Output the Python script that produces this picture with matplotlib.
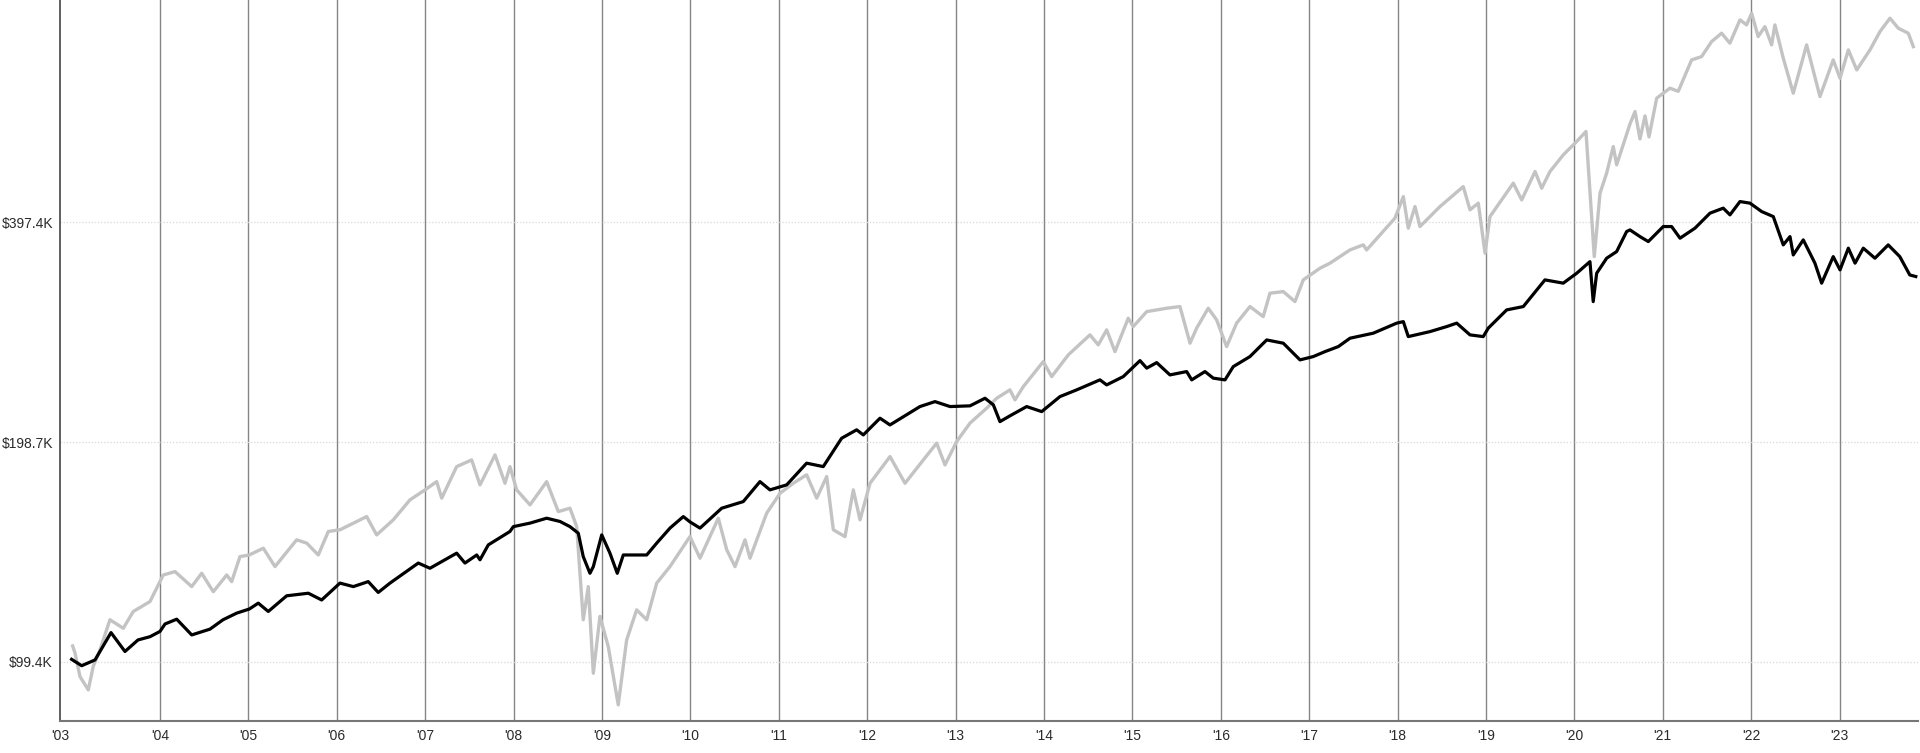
import matplotlib
matplotlib.use("Agg")
import matplotlib.pyplot as plt

# ---- data (values in $K, time in decimal years) ----
balanced_t = [2003.00, 2003.114, 2003.265, 2003.446, 2003.604, 2003.751, 2003.887, 2004.0, 2004.057, 2004.189,
              2004.359, 2004.566, 2004.713, 2004.868, 2005.01, 2005.112, 2005.225, 2005.433, 2005.678, 2005.829,
              2006.036, 2006.187, 2006.356, 2006.469, 2006.602, 2006.922, 2007.054, 2007.356, 2007.45, 2007.583,
              2007.62, 2007.714, 2007.959, 2007.997, 2008.186, 2008.374, 2008.525, 2008.638, 2008.732, 2008.788,
              2008.864, 2008.902, 2008.997, 2009.09, 2009.173, 2009.241, 2009.506, 2009.619, 2009.769, 2009.92,
              2009.995, 2010.109, 2010.354, 2010.598, 2010.787, 2010.9, 2011.089, 2011.315, 2011.503, 2011.711,
              2011.881, 2011.956, 2012.145, 2012.258, 2012.597, 2012.767, 2012.937, 2013.163, 2013.333, 2013.427,
              2013.502, 2013.615, 2013.804, 2013.974, 2014.181, 2014.37, 2014.633, 2014.709, 2014.897, 2015.086,
              2015.162, 2015.275, 2015.425, 2015.614, 2015.671, 2015.821, 2015.915, 2016.048, 2016.141, 2016.33,
              2016.519, 2016.707, 2016.896, 2017.046, 2017.179, 2017.329, 2017.462, 2017.725, 2017.99, 2018.065,
              2018.121, 2018.367, 2018.556, 2018.669, 2018.819, 2018.969, 2019.026, 2019.234, 2019.422, 2019.667,
              2019.874, 2020.026, 2020.176, 2020.213, 2020.252, 2020.365, 2020.478, 2020.591, 2020.629, 2020.742,
              2020.836, 2021.005, 2021.1, 2021.195, 2021.364, 2021.534, 2021.684, 2021.76, 2021.873, 2021.986,
              2022.118, 2022.25, 2022.363, 2022.439, 2022.476, 2022.589, 2022.721, 2022.797, 2022.928, 2023.005,
              2023.099, 2023.175, 2023.268, 2023.4, 2023.55, 2023.681, 2023.794, 2023.862]
balanced_v = [100.2, 98.2, 100.0, 109.0, 102.7, 106.5, 107.6, 109.4, 112.0, 113.7,
              108.2, 110.2, 113.5, 115.9, 117.4, 119.6, 116.5, 122.4, 123.4, 120.8,
              127.4, 126.0, 128.0, 123.7, 127.4, 135.7, 133.5, 140.0, 135.7, 139.2,
              137.1, 143.7, 149.9, 152.2, 153.9, 156.3, 154.7, 152.2, 149.1, 138.5,
              131.4, 134.2, 148.3, 140.0, 131.4, 139.2, 139.2, 144.5, 151.5, 157.1,
              154.5, 151.5, 161.3, 164.7, 175.4, 170.9, 173.6, 185.9, 183.9, 201.1,
              206.5, 203.2, 214.2, 209.7, 222.2, 225.7, 222.2, 222.7, 228.1, 223.4,
              211.9, 215.8, 222.2, 218.7, 229.3, 234.2, 241.7, 237.9, 244.2, 256.8,
              250.8, 255.2, 245.5, 248.1, 241.7, 248.1, 243.0, 241.7, 252.0, 260.1,
              274.1, 271.3, 257.4, 260.1, 264.2, 268.4, 275.6, 280.0, 289.0, 290.4,
              277.0, 281.4, 285.9, 289.0, 278.5, 277.0, 284.5, 301.3, 304.5, 331.2,
              327.8, 338.2, 350.8, 309.3, 338.2, 354.6, 362.1, 385.7, 387.7, 379.6,
              373.7, 391.8, 391.8, 377.7, 389.8, 408.7, 415.2, 406.5, 423.9, 421.8,
              410.8, 404.3, 369.8, 379.6, 358.3, 375.7, 349.1, 327.8, 356.4, 341.8,
              366.0, 349.1, 366.0, 354.6, 369.8, 356.4, 336.4, 334.7]

equity_t = [2003.012, 2003.038, 2003.095, 2003.189, 2003.245, 2003.321, 2003.434, 2003.585, 2003.698, 2003.887,
            2004.037, 2004.17, 2004.359, 2004.472, 2004.603, 2004.755, 2004.811, 2004.905, 2005.01, 2005.169,
            2005.301, 2005.546, 2005.66, 2005.791, 2005.904, 2006.036, 2006.338, 2006.451, 2006.639, 2006.828,
            2006.998, 2007.13, 2007.187, 2007.356, 2007.526, 2007.62, 2007.79, 2007.903, 2007.959, 2008.035,
            2008.186, 2008.374, 2008.506, 2008.638, 2008.714, 2008.788, 2008.845, 2008.902, 2008.977, 2009.071,
            2009.184, 2009.279, 2009.392, 2009.506, 2009.619, 2009.769, 2009.995, 2010.109, 2010.316, 2010.411,
            2010.505, 2010.618, 2010.674, 2010.863, 2011.014, 2011.164, 2011.315, 2011.429, 2011.542, 2011.617,
            2011.749, 2011.843, 2011.919, 2012.032, 2012.258, 2012.428, 2012.635, 2012.786, 2012.88, 2013.012,
            2013.163, 2013.352, 2013.465, 2013.615, 2013.672, 2013.766, 2013.992, 2014.087, 2014.275, 2014.52,
            2014.614, 2014.709, 2014.803, 2014.953, 2015.01, 2015.162, 2015.388, 2015.538, 2015.652, 2015.727,
            2015.858, 2015.953, 2016.066, 2016.179, 2016.33, 2016.48, 2016.556, 2016.707, 2016.839, 2016.933,
            2017.122, 2017.235, 2017.348, 2017.462, 2017.612, 2017.65, 2017.801, 2017.97, 2018.065, 2018.121,
            2018.197, 2018.253, 2018.48, 2018.743, 2018.819, 2018.913, 2018.989, 2019.045, 2019.309, 2019.404,
            2019.555, 2019.63, 2019.724, 2019.875, 2020.026, 2020.131, 2020.225, 2020.29, 2020.365, 2020.44,
            2020.478, 2020.629, 2020.686, 2020.742, 2020.799, 2020.844, 2020.931, 2021.081, 2021.175, 2021.326,
            2021.439, 2021.552, 2021.665, 2021.759, 2021.873, 2021.948, 2022.005, 2022.079, 2022.155, 2022.231,
            2022.268, 2022.363, 2022.476, 2022.627, 2022.778, 2022.928, 2023.005, 2023.099, 2023.194, 2023.344,
            2023.457, 2023.57, 2023.664, 2023.777, 2023.834]
equity_v = [104.5, 102.3, 94.9, 91.0, 98.0, 103.2, 113.5, 110.5, 116.5, 120.2,
            130.7, 132.1, 126.0, 131.4, 124.0, 130.7, 128.0, 138.5, 139.2, 142.2,
            134.2, 146.0, 144.5, 139.2, 149.9, 150.7, 157.1, 148.3, 155.5, 165.6,
            170.9, 175.4, 166.5, 183.9, 187.8, 173.6, 190.8, 174.5, 183.9, 170.9,
            163.0, 175.4, 159.6, 161.3, 152.2, 113.5, 126.0, 95.9, 114.7, 104.3,
            86.8, 106.5, 117.1, 113.5, 127.4, 134.2, 147.5, 137.8, 156.3, 141.5,
            134.2, 146.0, 137.8, 158.8, 169.1, 174.5, 179.2, 166.5, 178.2, 150.7,
            147.5, 170.9, 155.5, 174.5, 189.8, 174.5, 187.8, 198.0, 184.9, 199.0,
            210.9, 221.1, 228.1, 234.2, 226.9, 236.6, 256.0, 244.2, 261.5, 278.5,
            269.9, 282.9, 264.2, 293.5, 285.9, 299.7, 302.9, 304.5, 271.3, 284.5,
            302.9, 292.0, 268.4, 289.0, 304.5, 295.0, 317.6, 319.2, 309.3, 331.2,
            343.6, 349.1, 356.4, 364.0, 369.8, 364.0, 381.6, 402.3, 430.6, 389.8,
            417.3, 391.8, 417.3, 444.4, 413.0, 421.8, 360.3, 404.3, 449.2, 426.1,
            466.0, 442.1, 466.0, 491.2, 512.2, 528.6, 356.4, 435.2, 463.7, 504.1,
            475.9, 541.4, 562.9, 516.4, 555.3, 519.7, 587.1, 605.9, 600.0, 662.4,
            669.3, 701.7, 720.5, 698.2, 751.4, 739.7, 767.4, 712.9, 735.6, 694.5,
            739.7, 666.0, 596.4, 694.5, 590.1, 662.4, 625.2, 683.6, 641.8, 683.6,
            724.2, 755.4, 731.9, 720.5, 690.8]

y_tick_values = [99.4, 198.7, 397.4]
y_tick_labels = ["$99.4K", "$198.7K", "$397.4K"]
year_lines = list(range(2004, 2024))
x_tick_labels = ["'03"] + ["'%02d" % (y % 100) for y in year_lines]

# ---- figure ----
W, H, DPI = 1920, 753, 100
fig = plt.figure(figsize=(W / DPI, H / DPI), dpi=DPI)
x0, x1 = 60, 1918
yb = 721
ax = fig.add_axes([x0 / W, (H - yb) / H, (x1 - x0) / W, yb / H])

t_min, t_max = 2002.869, 2023.887
ax.set_xlim(t_min, t_max)
ax.set_yscale("log")
ax.set_ylim(82.5e3, 800e3)

for yr in year_lines:
    ax.axvline(yr, color="#858585", lw=1.0, zorder=1)
for v in y_tick_values:
    ax.axhline(v * 1000, color="#d8d8d8", lw=0.9, ls=(0, (1, 1.5)), zorder=1)

ax.plot(equity_t, [v * 1000 for v in equity_v], color="#c3c3c3", lw=2.4, zorder=2,
        solid_joinstyle="round")
ax.plot(balanced_t, [v * 1000 for v in balanced_v], color="#000000", lw=2.3, zorder=3,
        solid_joinstyle="round")

ax.set_yticks([v * 1000 for v in y_tick_values])
ax.set_yticklabels(y_tick_labels)
ax.yaxis.set_minor_locator(matplotlib.ticker.NullLocator())
ax.set_xticks([t_min] + year_lines)
ax.set_xticklabels(x_tick_labels)

for lab in ax.get_xticklabels() + ax.get_yticklabels():
    lab.set_fontfamily("Liberation Sans")
    lab.set_fontsize(10)
    lab.set_color("#2a2a2a")
ax.tick_params(axis="both", length=0)
ax.tick_params(axis="y", pad=5)
ax.tick_params(axis="x", pad=6)

ax.spines["top"].set_visible(False)
ax.spines["right"].set_visible(False)
ax.spines["left"].set_color("#444444")
ax.spines["left"].set_linewidth(1.2)
ax.spines["bottom"].set_color("#777777")
ax.spines["bottom"].set_linewidth(1.5)
ax.set_facecolor("white")

fig.savefig("out.png", dpi=DPI, facecolor="white")
